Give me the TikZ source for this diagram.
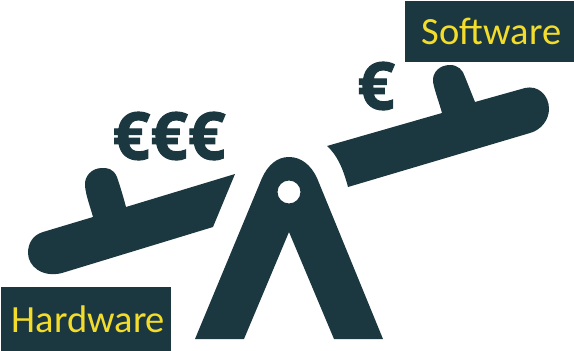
\documentclass[tikz,border=0pt]{standalone}
\usepackage{fontspec}
\setmainfont{Carlito}
\newfontfamily\eurofont{Open Sans}[BoldFeatures={FakeBold=1.6}]
\definecolor{seesawdark}{HTML}{1B3740}
\definecolor{labelyellow}{HTML}{F3DD2A}
\tikzset{
  seesaw/.style={fill=seesawdark,draw=none},
  labelbox/.style={fill=seesawdark,text=labelyellow,inner sep=0pt,font=\fontsize{38.5}{38.5}\selectfont},
  euro/.style={text=seesawdark,inner sep=0pt,font=\fontsize{66}{66}\eurofont\bfseries}
}
\begin{document}
\begin{tikzpicture}[x=1pt,y=-1pt]
\useasboundingbox (0,0) rectangle (574,351);
\fill[seesaw] (235,174) -- (126,207) .. controls (122,192) and (119,183) .. (117,177)
  .. controls (113,168) and (107,168) .. (102,168) .. controls (92,168) and (84,176) .. (85,186)
  .. controls (86,196) and (90,206) .. (93,217) -- (43,232) .. controls (33,235) and (28,243) .. (28,253)
  .. controls (28,266) and (42,278) .. (62,273) -- (213,227) -- cycle;
\fill[seesaw] (327,146) -- (442,113) .. controls (439,102) and (435,92) .. (433,82)
  .. controls (432,72) and (440,65) .. (450,65) .. controls (458,65) and (463,70) .. (465,77)
  -- (475,102) -- (525,88) .. controls (538,85) and (549,95) .. (549,109)
  .. controls (549,120) and (541,130) .. (530,133) -- (348,187)
  .. controls (343,168) and (337,155) .. (327,146) -- cycle;
\fill[seesaw,even odd rule] (195,339) -- (262,178) .. controls (268,165) and (277,157) .. (289,157)
  .. controls (301,157) and (311,165) .. (317,178) -- (383,339) -- (334,339) -- (289,232) -- (244,339) -- cycle
  (289,192) circle (11.5);
\node[labelbox,minimum width=170pt,minimum height=64pt] (hardware) at (86,319) {\hspace*{5pt}Hardware};
\node[labelbox,minimum width=169pt,minimum height=61pt] (software) at (489.5,31.5) {\hspace*{4pt}Software};
\node[euro] (eurolow) at (169,136) {€€€};
\node[euro] (eurohigh) at (376,86) {€};
\end{tikzpicture}
\end{document}
